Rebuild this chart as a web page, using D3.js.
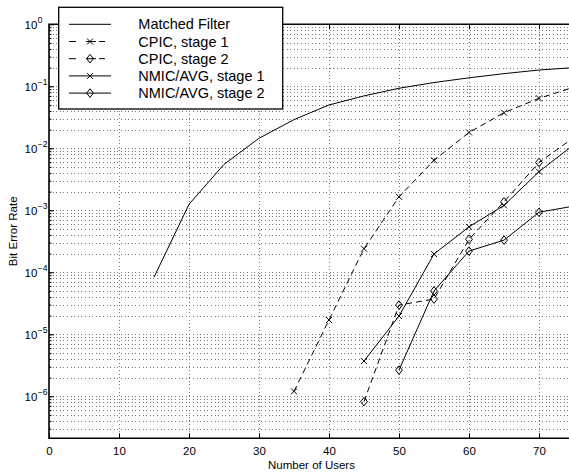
<!DOCTYPE html>
<html>
<head>
<meta charset="utf-8">
<script src="https://cdn.jsdelivr.net/npm/d3@7"></script>
<style>
  body { margin: 0; background: #fff; }
  svg { display: block; font-family: "Liberation Sans", Arial, Helvetica, sans-serif; }
  .grid line { stroke: #777; stroke-width: 1; stroke-dasharray: 1,2.6; shape-rendering: crispEdges; }
</style>
</head>
<body>
<div id="chart"></div>
<script>
// Users (x) for each curve
const usersMF = [15, 20, 25, 30, 35, 40, 45, 50, 55, 60, 65, 70, 75];
const usersCPIC1 = [35, 40, 45, 50, 55, 60, 65, 70, 75];
const usersCPIC2 = [45, 50, 55, 60, 65, 70, 75];
const usersNMIC1 = [45, 50, 55, 60, 65, 70, 75];
const usersNMIC2 = [50, 55, 60, 65, 70, 75];

// Bit error rates
const berMF = [8.3e-5, 1.25e-3, 5.5e-3, 1.45e-2, 2.9e-2, 5e-2, 7e-2, 9.3e-2, 1.15e-1, 1.37e-1, 1.6e-1, 1.83e-1, 2.0e-1];
const berCPIC1 = [1.2e-6, 1.7e-5, 2.4e-4, 1.65e-3, 6.4e-3, 1.8e-2, 3.75e-2, 6.4e-2, 9.7e-2];
const berCPIC2 = [8.2e-7, 2.96e-5, 3.7e-5, 3.4e-4, 1.37e-3, 5.9e-3, 1.5e-2];
const berNMIC1 = [3.7e-6, 1.97e-5, 1.97e-4, 5.4e-4, 1.2e-3, 4.2e-3, 1.15e-2];
const berNMIC2 = [2.65e-6, 5e-5, 2.2e-4, 3.3e-4, 9.3e-4, 1.17e-3];

const xTicks = [0, 10, 20, 30, 40, 50, 60, 70];
const yExponents = [0, -1, -2, -3, -4, -5, -6];
const seriesNames = ["Matched Filter", "CPIC, stage 1", "CPIC, stage 2", "NMIC/AVG, stage 1", "NMIC/AVG, stage 2"];

const W = 569, H = 472;
const plotL = 49, plotR = 574, plotT = 24.3, plotB = 438.3;

const svg = d3.select("#chart").append("svg")
    .attr("width", W)
    .attr("height", H);

const x = d3.scaleLinear().domain([0, 75]).range([plotL, plotR]);
const y = d3.scaleLog().domain([2.1e-7, 1]).range([plotB, plotT]);

// minor + major y grid values
const yGridVals = [];
for (let d = -7; d <= -1; d++) {
    for (let k = 1; k <= 9; k++) {
        const v = k * Math.pow(10, d);
        if (v >= 2.1e-7 && v < 1) yGridVals.push(v);
    }
}
const yMajor = yExponents.map(e => Math.pow(10, e));

// grid
const grid = svg.append("g").attr("class", "grid");
grid.selectAll(".hg")
    .data(yGridVals)
    .enter().append("line")
    .attr("x1", plotL).attr("x2", plotR)
    .attr("y1", d => Math.round(y(d)) + 0.5)
    .attr("y2", d => Math.round(y(d)) + 0.5);
grid.selectAll(".vg")
    .data(xTicks.filter(t => t > 0))
    .enter().append("line")
    .attr("x1", d => Math.round(x(d)) + 0.5)
    .attr("x2", d => Math.round(x(d)) + 0.5)
    .attr("y1", plotT).attr("y2", plotB);

// axes (ticks inward, matlab style)
svg.append("g")
    .attr("transform", `translate(0,${plotB})`)
    .call(d3.axisBottom(x).tickValues(xTicks).tickSize(-5).tickPadding(9).tickFormat(d3.format("d")))
    .call(g => g.select(".domain").remove())
    .call(g => g.selectAll("text").attr("font-size", 11.5).attr("fill", "#000").attr("font-family", "Liberation Sans, Arial, sans-serif"))
    .call(g => g.selectAll("line").attr("stroke", "#000"));

svg.append("g")
    .attr("transform", `translate(0,${plotT})`)
    .call(d3.axisTop(x).tickValues(xTicks).tickSize(-5).tickFormat(""))
    .call(g => g.select(".domain").remove())
    .call(g => g.selectAll("line").attr("stroke", "#000"));

svg.append("g")
    .attr("transform", `translate(${plotL},0)`)
    .call(d3.axisLeft(y).tickValues(yGridVals).tickSize(-2.5).tickFormat(""))
    .call(g => g.select(".domain").remove())
    .call(g => g.selectAll("line").attr("stroke", "#000"));

svg.append("g")
    .attr("transform", `translate(${plotL},0)`)
    .call(d3.axisLeft(y).tickValues(yMajor).tickSize(-5).tickFormat(""))
    .call(g => g.select(".domain").remove())
    .call(g => g.selectAll("line").attr("stroke", "#000"));

// y tick labels 10^n
const yl = svg.append("g").selectAll("text")
    .data(yExponents)
    .enter().append("text")
    .attr("x", 24.5)
    .attr("y", d => y(Math.pow(10, d)) + 4.5)
    .attr("font-size", 11.5)
    .attr("fill", "#000");
yl.append("tspan").text("10");
yl.append("tspan")
    .attr("dy", -6)
    .attr("dx", 0.5)
    .attr("font-size", 8.5)
    .text(d => d === 0 ? "0" : "\u2212" + (-d));

// frame: left, bottom, top (right edge falls outside the picture)
svg.append("path")
    .attr("d", `M${plotR},${plotT}H${plotL}V${plotB}H${plotR}`)
    .attr("fill", "none")
    .attr("stroke", "#000")
    .attr("stroke-width", 1.6);

// axis titles
svg.append("text")
    .attr("x", (plotL + plotR) / 2)
    .attr("y", 469)
    .attr("text-anchor", "middle")
    .attr("font-size", 11.5)
    .text("Number of Users");

svg.append("text")
    .attr("transform", `translate(17,${(plotT + plotB) / 2}) rotate(-90)`)
    .attr("text-anchor", "middle")
    .attr("font-size", 11.5)
    .text("Bit Error Rate");

// curves
const series = [
    { xs: usersMF, ys: berMF, dash: null, marker: null },
    { xs: usersCPIC1, ys: berCPIC1, dash: "6,4", marker: "x" },
    { xs: usersCPIC2, ys: berCPIC2, dash: "6,4", marker: "d" },
    { xs: usersNMIC1, ys: berNMIC1, dash: null, marker: "x" },
    { xs: usersNMIC2, ys: berNMIC2, dash: null, marker: "d" }
];

const line = d3.line().x(d => x(d[0])).y(d => y(d[1]));

function drawMarker(g, type, cx, cy) {
    if (type === "x") {
        g.append("path")
            .attr("d", `M${cx - 3},${cy - 3}L${cx + 3},${cy + 3}M${cx - 3},${cy + 3}L${cx + 3},${cy - 3}`)
            .attr("stroke", "#000").attr("stroke-width", 1).attr("fill", "none");
    } else if (type === "d") {
        g.append("path")
            .attr("d", `M${cx},${cy - 4.3}L${cx + 3.4},${cy}L${cx},${cy + 4.3}L${cx - 3.4},${cy}Z`)
            .attr("stroke", "#000").attr("stroke-width", 1).attr("fill", "none");
    }
}

const plot = svg.append("g");
series.forEach(s => {
    const pts = s.xs.map((u, i) => [u, s.ys[i]]);
    plot.append("path")
        .datum(pts)
        .attr("d", line)
        .attr("fill", "none")
        .attr("stroke", "#000")
        .attr("stroke-width", 1)
        .attr("stroke-dasharray", s.dash);
    if (s.marker) {
        pts.forEach(p => drawMarker(plot, s.marker, x(p[0]), y(p[1])));
    }
});

// legend
const lg = svg.append("g");
lg.append("rect")
    .attr("x", 58.7).attr("y", 7.3)
    .attr("width", 224).attr("height", 101.7)
    .attr("fill", "#fff")
    .attr("stroke", "#000")
    .attr("stroke-width", 1.3);

seriesNames.forEach((name, i) => {
    const ry = 24.3 + i * 17.2;
    const s = series[i];
    lg.append("line")
        .attr("x1", 69).attr("x2", 111)
        .attr("y1", ry).attr("y2", ry)
        .attr("stroke", "#000")
        .attr("stroke-width", 1)
        .attr("stroke-dasharray", s.dash ? "7,10,10,3,6" : null);
    if (s.marker) drawMarker(lg, s.marker, 90, ry);
    lg.append("text")
        .attr("x", 138.3)
        .attr("y", ry + 5)
        .attr("font-size", 14.5)
        .text(name);
});
</script>
</body>
</html>
